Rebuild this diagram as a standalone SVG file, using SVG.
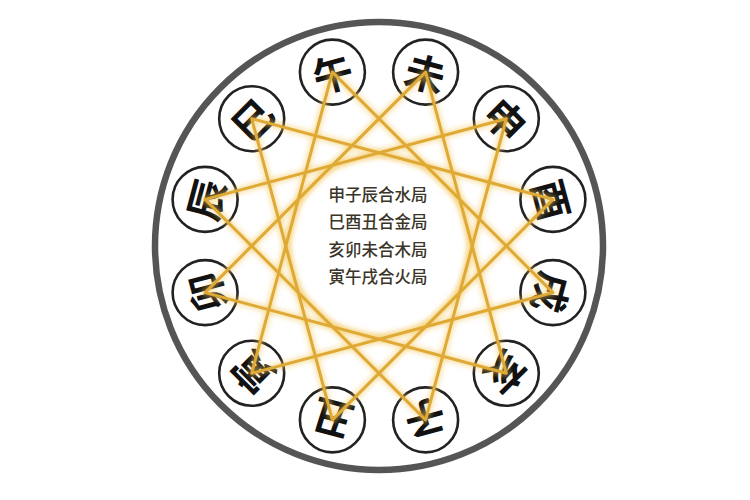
<svg xmlns="http://www.w3.org/2000/svg" width="750" height="500" viewBox="0 0 750 500">
  <defs>
    <style>
      .ring { fill: #ffffff; stroke: #222222; stroke-width: 2.6; }
      .ch { font-family: "Noto Sans CJK SC", "Noto Sans CJK TC", sans-serif; font-size: 40px; font-weight: 700; fill: #111111; text-anchor: middle; dominant-baseline: central; }
      .link { fill: none; stroke: #DFA935; stroke-width: 3; stroke-linejoin: round; }
      .halo { fill: none; stroke: #F6C85A; stroke-width: 7; stroke-opacity: 0.5; stroke-linejoin: round; }
      .mid { font-family: "Noto Sans CJK SC", "Noto Sans CJK TC", sans-serif; font-size: 16.5px; font-weight: 500; fill: #3a3528; text-anchor: middle; }
    </style>
    <filter id="blur" x="-20%" y="-20%" width="140%" height="140%">
      <feGaussianBlur stdDeviation="2.5"/>
    </filter>
  </defs>

  <rect width="750" height="500" fill="#ffffff"/>

  <g id="outer">
    <circle cx="379" cy="246" r="224" fill="#ffffff" stroke="#555555" stroke-width="6.5"/>
  </g>

  <g id="inner-glow">
    <circle cx="379" cy="246" r="90" fill="none" stroke="#F2C45A" stroke-width="3" stroke-opacity="0.7" filter="url(#blur)"/>
  </g>

  <g id="node-wu"><circle class="ring" cx="332.4" cy="72.1" r="32.5"/><text class="ch" transform="translate(332.4,72.1) rotate(-15)">午</text></g>
  <g id="node-wei"><circle class="ring" cx="425.6" cy="72.1" r="32.5"/><text class="ch" transform="translate(425.6,72.1) rotate(15)">未</text></g>
  <g id="node-shen"><circle class="ring" cx="506.3" cy="118.7" r="32.5"/><text class="ch" transform="translate(506.3,118.7) rotate(45)">申</text></g>
  <g id="node-you"><circle class="ring" cx="552.9" cy="199.4" r="32.5"/><text class="ch" transform="translate(552.9,199.4) rotate(75)">酉</text></g>
  <g id="node-xu"><circle class="ring" cx="552.9" cy="292.6" r="32.5"/><text class="ch" transform="translate(552.9,292.6) rotate(105)">戌</text></g>
  <g id="node-hai"><circle class="ring" cx="506.3" cy="373.3" r="32.5"/><text class="ch" transform="translate(506.3,373.3) rotate(135)">亥</text></g>
  <g id="node-zi"><circle class="ring" cx="425.6" cy="419.9" r="32.5"/><text class="ch" transform="translate(425.6,419.9) rotate(165)">子</text></g>
  <g id="node-chou"><circle class="ring" cx="332.4" cy="419.9" r="32.5"/><text class="ch" transform="translate(332.4,419.9) rotate(195)">丑</text></g>
  <g id="node-yin"><circle class="ring" cx="251.7" cy="373.3" r="32.5"/><text class="ch" transform="translate(251.7,373.3) rotate(225)">寅</text></g>
  <g id="node-mao"><circle class="ring" cx="205.1" cy="292.6" r="32.5"/><text class="ch" transform="translate(205.1,292.6) rotate(255)">卯</text></g>
  <g id="node-chen"><circle class="ring" cx="205.1" cy="199.4" r="32.5"/><text class="ch" transform="translate(205.1,199.4) rotate(285)">辰</text></g>
  <g id="node-si"><circle class="ring" cx="251.7" cy="118.7" r="32.5"/><text class="ch" transform="translate(251.7,118.7) rotate(315)">巳</text></g>

  <g id="connectors">
    <g filter="url(#blur)">
      <polygon class="halo" points="506.3,118.7 425.6,419.9 205.1,199.4"/>
      <polygon class="halo" points="251.7,118.7 552.9,199.4 332.4,419.9"/>
      <polygon class="halo" points="506.3,373.3 205.1,292.6 425.6,72.1"/>
      <polygon class="halo" points="251.7,373.3 332.4,72.1 552.9,292.6"/>
    </g>
    <polygon class="link" points="506.3,118.7 425.6,419.9 205.1,199.4"/>
    <polygon class="link" points="251.7,118.7 552.9,199.4 332.4,419.9"/>
    <polygon class="link" points="506.3,373.3 205.1,292.6 425.6,72.1"/>
    <polygon class="link" points="251.7,373.3 332.4,72.1 552.9,292.6"/>
  </g>

  <g id="center-text">
    <text class="mid" x="378" y="201">申子辰合水局</text>
    <text class="mid" x="378" y="228">巳酉丑合金局</text>
    <text class="mid" x="378" y="256">亥卯未合木局</text>
    <text class="mid" x="378" y="283">寅午戌合火局</text>
  </g>
</svg>
